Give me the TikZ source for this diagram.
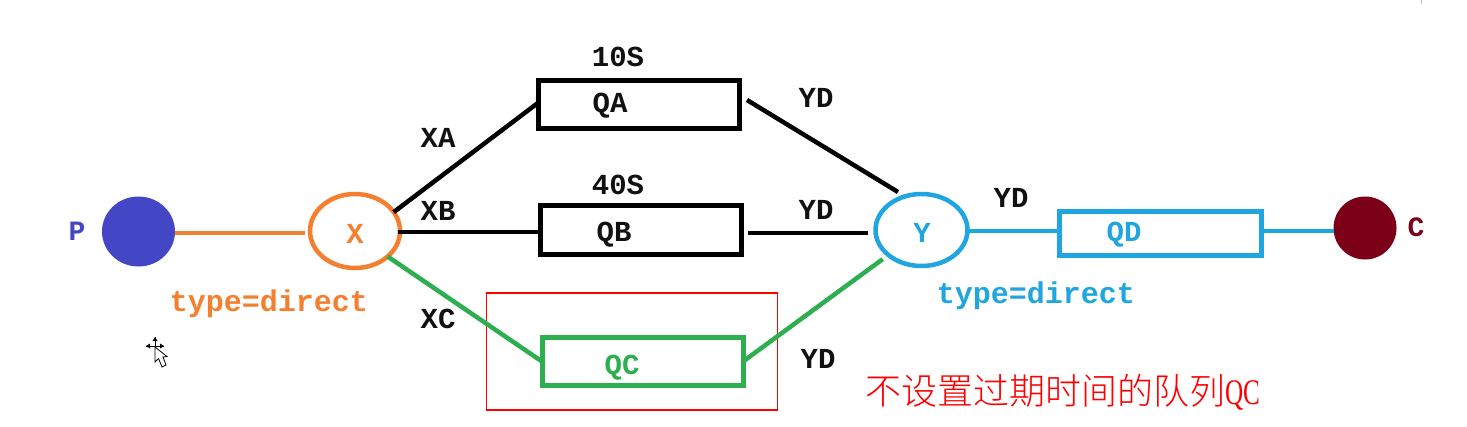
\documentclass[tikz,border=0pt]{standalone}
\usepackage{fontspec}
\setmainfont{Liberation Serif}
\newfontfamily\mono{Liberation Mono}
\newfontfamily\cjk{Noto Sans CJK SC Light}[Scale=1]
\usetikzlibrary{shapes.geometric}
\definecolor{cOr}{HTML}{F47F2F}
\definecolor{cBl}{HTML}{4347C6}
\definecolor{cCy}{HTML}{1FA6E0}
\definecolor{cGr}{HTML}{2DAE4F}
\definecolor{cDr}{HTML}{7B0018}
\definecolor{cTx}{HTML}{111111}
\tikzset{
  lbl/.style={inner sep=0pt,outer sep=0pt,font=\mono\bfseries\fontsize{29}{29}\selectfont},
  big/.style={inner sep=0pt,outer sep=0pt,font=\mono\bfseries\fontsize{30}{30}\selectfont},
  qbox/.style={draw=#1,line width=5pt,inner sep=0pt,outer sep=0pt,minimum width=201pt},
  disc/.style={ellipse,fill=#1,inner sep=0pt,outer sep=0pt},
  ell/.style={ellipse,draw=#1,line width=4.5pt,inner sep=0pt,outer sep=0pt},
  conn/.style={draw=#1,line width=4.5pt}
}
\begin{document}
\begin{tikzpicture}[x=1pt,y=-1pt]
\useasboundingbox[fill=white] (0,0) rectangle (1467,426);
\node[disc=cBl,minimum width=73pt,minimum height=70pt] (P) at (138.5,231.5) {};
\node[disc=cDr,minimum width=63pt,minimum height=63pt] (C) at (1365,228) {};
\node[ell=cOr,minimum width=90pt,minimum height=74pt] (X) at (355,231) {};
\node[ell=cCy,minimum width=92pt,minimum height=72pt] (Y) at (921.5,230) {};
\node[qbox=black,minimum height=48pt] (QA) at (639,104.5) {};
\node[qbox=black,minimum height=49pt] (QB) at (641,230) {};
\node[qbox=cGr,minimum height=48pt] (QC) at (642.5,361.5) {};
\node[qbox=cCy,minimum height=44pt,minimum width=202pt] (QD) at (1160.5,233.5) {};
\node[draw=red,line width=1.5pt,minimum width=291pt,minimum height=117pt,inner sep=0pt,outer sep=0pt] (RB) at (632,351.5) {};
% connectors
\coordinate (pe) at (P.east|-0,233);
\coordinate (xw) at (305,233);
\draw[conn=cOr] (pe) -- (xw);
\draw[conn=black] (X.26) -- ([yshift=2pt]QA.west);
\draw[conn=black] (X.east) ++(-2,1) -- (QB.west|-0,232) coordinate (qbw);
\draw[conn=cGr] (X.-38) -- (QC.west);
\coordinate (qae) at (747,100);
\coordinate (yn) at (898,192);
\draw[conn=black] (qae) -- (yn);
\coordinate (qbe) at (748,233);
\coordinate (yw) at (868,233);
\draw[conn=black] (qbe) -- (yw);
\draw[conn=cGr,shorten >=7pt] (QC.east) -- (Y.-143);
\draw[conn=cCy] (Y.east) ++(0,1) -- (QD.west|-0,231);
\draw[conn=cCy] (QD.east|-C.west) ++(0,3) -- (C.west|-0,231);
% labels
\node[lbl,text=cBl,font=\mono\bfseries\fontsize{28}{28}\selectfont] (lp) at (77,231) {P};
\node[lbl,text=cDr,font=\mono\bfseries\fontsize{28}{28}\selectfont] (lc) at (1416,227) {C};
\node[lbl,text=cOr,font=\mono\bfseries\fontsize{29}{29}\selectfont] (lx) at (355,234) {X};
\node[lbl,text=cCy,font=\mono\bfseries\fontsize{29}{29}\selectfont] (ly) at (922,233) {Y};
\node[lbl,text=cTx] (la) at (610,105.5) {QA};
\node[lbl,text=cTx] (lb) at (614,235) {QB};
\node[lbl,text=cGr] (lqc) at (622,368) {QC};
\node[lbl,text=cCy] (ld) at (1124,234.5) {QD};
\node[lbl,text=cTx] (t1) at (618,56.5) {10S};
\node[lbl,text=cTx] (t2) at (618,185) {40S};
\node[lbl,text=cTx] (xa) at (438,138) {XA};
\node[lbl,text=cTx] (xb) at (438,211) {XB};
\node[lbl,text=cTx] (xc) at (438,319) {XC};
\node[lbl,text=cTx] (y1) at (816,97.5) {YD};
\node[lbl,text=cTx] (y2) at (816,210) {YD};
\node[lbl,text=cTx] (y3) at (818,359) {YD};
\node[lbl,text=cTx] (y4) at (1011,198) {YD};
\node[big,text=cOr] (tp1) at (269,304) {type=direct};
\node[big,text=cCy] (tp2) at (1036,296) {type=direct};
\node[inner sep=0pt,outer sep=0pt,text=red,anchor=west,font=\fontsize{36}{36}\selectfont] (cap) at (865,392) {{\cjk 不设置过期时间的队列}\scalebox{0.7}[1]{QC}};
% cursor
\draw[black,line width=1pt] (146,346) -- (164,346) (155,337) -- (155,352);
\fill[black] (146,346) -- (150,343.5) -- (150,348.5) -- cycle (164,346) -- (160,343.5) -- (160,348.5) -- cycle (155,337) -- (152.5,341) -- (157.5,341) -- cycle;
\draw[black,fill=white,line width=.8pt] (155,347) -- (155,362) -- (158.5,358.5) -- (162,367) -- (166,365) -- (163,357) -- (167,356.5) -- cycle;
% tiny mark at top right
\draw[black!25,line width=1pt] (1421.5,0) -- (1421.5,4);
\end{tikzpicture}
\end{document}
